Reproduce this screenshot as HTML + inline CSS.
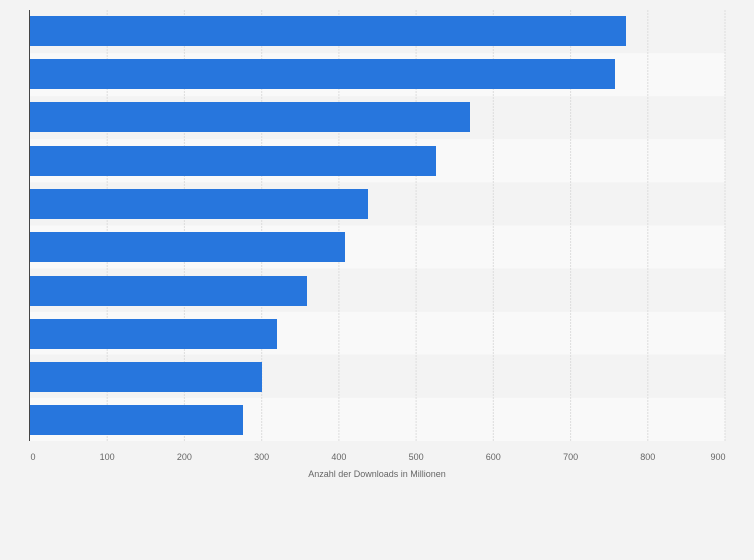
<html><head><style>body{margin:0;background:#f3f3f3}</style></head><body>
<svg width="754" height="560" xmlns="http://www.w3.org/2000/svg" font-family="Liberation Sans, sans-serif">
<rect width="754" height="560" fill="#f3f3f3"/>
<g id="bands">
<rect x="30" y="10" width="695" height="43.1" fill="#f3f3f3"/>
<rect x="30" y="53.1" width="695" height="43.1" fill="#f9f9f9"/>
<rect x="30" y="96.2" width="695" height="43.1" fill="#f3f3f3"/>
<rect x="30" y="139.3" width="695" height="43.1" fill="#f9f9f9"/>
<rect x="30" y="182.4" width="695" height="43.1" fill="#f3f3f3"/>
<rect x="30" y="225.5" width="695" height="43.1" fill="#f9f9f9"/>
<rect x="30" y="268.6" width="695" height="43.1" fill="#f3f3f3"/>
<rect x="30" y="311.7" width="695" height="43.1" fill="#f9f9f9"/>
<rect x="30" y="354.8" width="695" height="43.1" fill="#f3f3f3"/>
<rect x="30" y="397.9" width="695" height="43.1" fill="#f9f9f9"/>
</g>
<g stroke="#dddddd" stroke-width="1" stroke-dasharray="2,1">
<line x1="107.2" y1="10" x2="107.2" y2="441"/><line x1="184.4" y1="10" x2="184.4" y2="441"/><line x1="261.7" y1="10" x2="261.7" y2="441"/><line x1="338.9" y1="10" x2="338.9" y2="441"/><line x1="416.1" y1="10" x2="416.1" y2="441"/><line x1="493.3" y1="10" x2="493.3" y2="441"/><line x1="570.6" y1="10" x2="570.6" y2="441"/><line x1="647.8" y1="10" x2="647.8" y2="441"/><line x1="725" y1="10" x2="725" y2="441"/>
</g>
<g fill="#2776dd">
<rect x="30" y="16" width="596" height="30"/>
<rect x="30" y="59" width="585" height="30"/>
<rect x="30" y="102" width="440" height="30"/>
<rect x="30" y="146" width="406" height="30"/>
<rect x="30" y="189" width="338" height="30"/>
<rect x="30" y="232" width="315" height="30"/>
<rect x="30" y="276" width="277" height="30"/>
<rect x="30" y="319" width="247" height="30"/>
<rect x="30" y="362" width="232" height="30"/>
<rect x="30" y="405" width="213" height="30"/>
</g>
<line x1="29.5" y1="10" x2="29.5" y2="441" stroke="#444" stroke-width="1"/>
<g font-size="9" fill="#666" text-anchor="middle">
<text x="33" y="460">0</text><text x="107.2" y="460">100</text><text x="184.4" y="460">200</text><text x="261.7" y="460">300</text><text x="338.9" y="460">400</text><text x="416.1" y="460">500</text><text x="493.3" y="460">600</text><text x="570.6" y="460">700</text><text x="647.8" y="460">800</text><text x="718" y="460">900</text>
<text x="377" y="477">Anzahl der Downloads in Millionen</text>
</g>
</svg>
</body></html>
